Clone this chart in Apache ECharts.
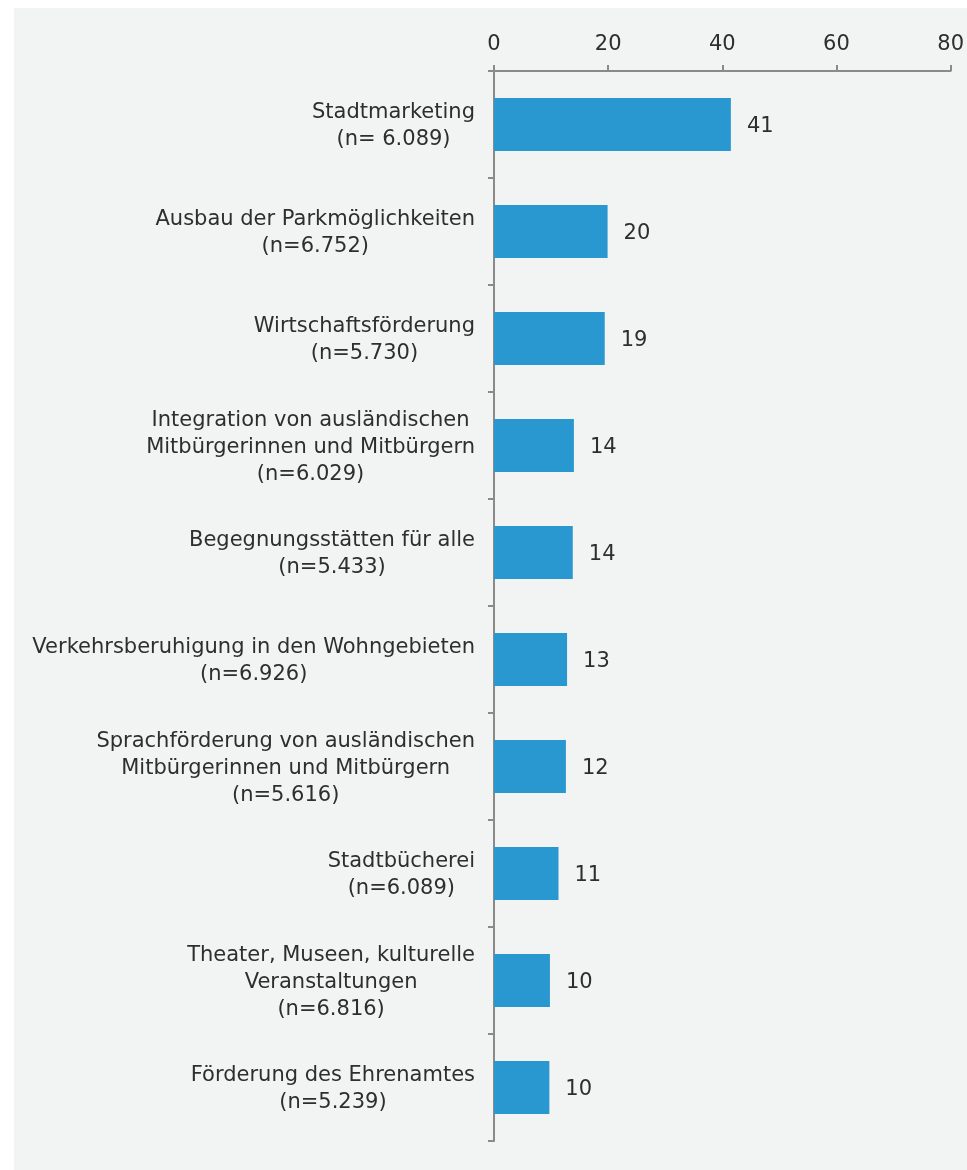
<!DOCTYPE html>
<html>
<head>
<meta charset="utf-8">
<script src="https://cdn.jsdelivr.net/npm/echarts@6/dist/echarts.min.js"></script>
<style>
  html, body { margin: 0; padding: 0; background: #ffffff; }
  #main { position: absolute; left: 14px; top: 8px; width: 953px; height: 1162px; background: #f2f3f3; }
</style>
</head>
<body>
<div id="main"></div>
<script>
// Kategorien (von oben nach unten)
var categories = [
  'Stadtmarketing\n(n= 6.089)',
  'Ausbau der Parkmöglichkeiten\n(n=6.752)',
  'Wirtschaftsförderung\n(n=5.730)',
  'Integration von ausländischen\nMitbürgerinnen und Mitbürgern\n(n=6.029)',
  'Begegnungsstätten für alle\n(n=5.433)',
  'Verkehrsberuhigung in den Wohngebieten\n(n=6.926)',
  'Sprachförderung von ausländischen\nMitbürgerinnen und Mitbürgern\n(n=5.616)',
  'Stadtbücherei\n(n=6.089)',
  'Theater, Museen, kulturelle\nVeranstaltungen\n(n=6.816)',
  'Förderung des Ehrenamtes\n(n=5.239)'
];
// Balkenlängen (aus dem Bild geschätzt)
var values = [41.5, 19.9, 19.4, 14.0, 13.8, 12.8, 12.6, 11.3, 9.8, 9.7];
// angezeigte Werte
var valueLabels = [41, 20, 19, 14, 14, 13, 12, 11, 10, 10];
var xTicks = [0, 20, 40, 60, 80];

var textColor = '#2e2e2e';
var axisColor = '#8a8a8a';
var font = "'DejaVu Sans', Verdana, sans-serif";
var fontSize = 21;

var myChart = echarts.init(document.getElementById('main'));
myChart.setOption({
  animation: false,
  textStyle: { fontFamily: font },
  grid: { left: 480, right: 15, top: 63, bottom: 29, containLabel: false },
  xAxis: {
    type: 'value',
    position: 'top',
    min: xTicks[0],
    max: xTicks[xTicks.length - 1],
    interval: 20,
    axisLine: { show: true, lineStyle: { color: axisColor, width: 2 } },
    axisTick: { show: true, length: 6, lineStyle: { color: axisColor, width: 2 } },
    splitLine: { show: false },
    axisLabel: { color: textColor, fontSize: fontSize, fontFamily: font, margin: 16 }
  },
  yAxis: {
    type: 'category',
    inverse: true,
    data: categories,
    axisLine: { show: true, lineStyle: { color: axisColor, width: 2 } },
    axisTick: { show: true, length: 6, lineStyle: { color: axisColor, width: 2 } },
    axisLabel: {
      margin: 19,
      padding: [4, 0, 0, 0],
      formatter: function (v) {
        return v.split('\n').map(function (s) { return '{c|' + s + '}'; }).join('\n');
      },
      rich: {
        c: { align: 'center', color: textColor, fontSize: fontSize, fontFamily: font, lineHeight: 27 }
      }
    }
  },
  series: [{
    type: 'bar',
    data: values,
    barWidth: 53,
    itemStyle: { color: '#2a98d0' },
    label: {
      show: true,
      position: 'right',
      distance: 16,
      offset: [0, 2],
      color: textColor,
      fontSize: fontSize,
      fontFamily: font,
      formatter: function (p) { return valueLabels[p.dataIndex]; }
    }
  }]
});
</script>
</body>
</html>
